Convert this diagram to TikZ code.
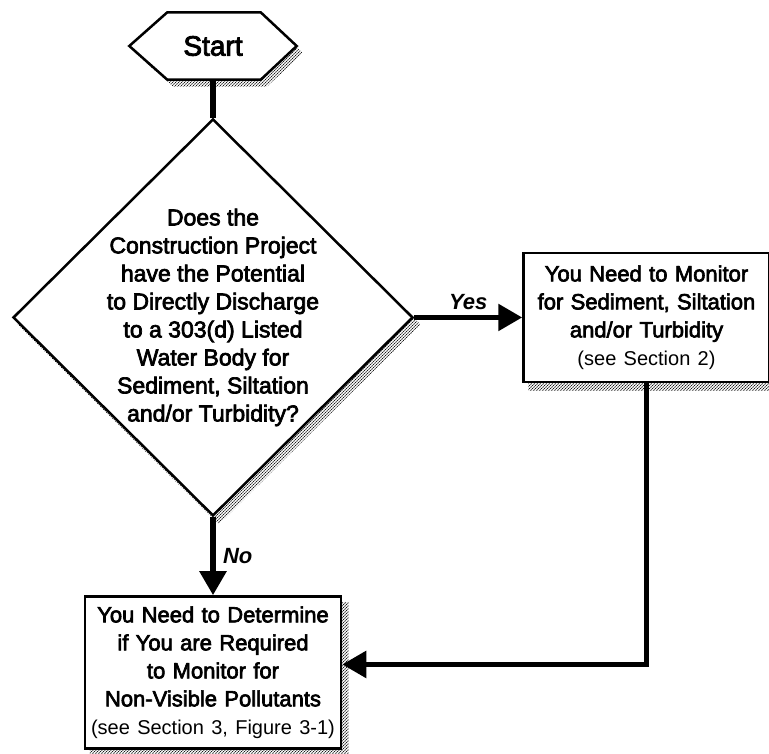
\documentclass[tikz,border=0pt]{standalone}
\usepackage{fontspec}
\setmainfont{Liberation Sans}
\newfontfamily\heavyfont[FakeBold=3]{Liberation Sans}
\usetikzlibrary{arrows.meta,positioning,shapes.geometric,backgrounds,patterns}

\begin{document}
\begin{tikzpicture}[x=1pt,y=1pt,
  castshadow/.style={preaction={pattern=north east lines,pattern color=black!60},
    pattern=crosshatch dots,pattern color=black},
  hexbox/.style={minimum width=167pt,minimum height=67pt,inner sep=0pt,
    font=\heavyfont\fontsize{28}{32}\selectfont},
  ask/.style={diamond,draw,line width=2.5pt,fill=white,minimum width=400pt,
    minimum height=397pt,inner sep=0pt},
  asktext/.style={align=center,font=\heavyfont\fontsize{23}{28}\selectfont},
  box/.style={draw,line width=2.5pt,fill=white,align=center,inner sep=2pt,
    font=\heavyfont\fontsize{22}{28}\selectfont},
  link/.style={line width=5.5pt},
  arr/.style={-{Triangle[length=24pt,width=26pt]},line width=5.5pt},
  lbl/.style={font=\bfseries\itshape\fontsize{22}{24}\selectfont},
  node distance=38pt]
\useasboundingbox (0,0) rectangle (769,-753);

\node[hexbox](start) at (213,-46){Start};
\node[ask,below=38pt of start](q){};
\node[asktext](qtext) at (q){Does the\\Construction Project\\have the Potential\\
  to Directly Discharge\\to a 303(d) Listed\\Water Body for\\Sediment, Siltation\\and/or Turbidity?};

\node[box,text width=242pt,minimum height=129pt,right=108pt of q](mon){You Need to Monitor\\
  for Sediment, Siltation\\and/or Turbidity\\{\fontsize{20}{28}\normalfont\selectfont(see Section 2)}};
\node[box,text width=252pt,minimum height=152pt,below=78pt of q](det){You Need to Determine\\
  if You are Required\\to Monitor for\\Non-Visible Pollutants\\
  {\fontsize{20}{28}\normalfont\selectfont(see Section 3, Figure 3-1)}};

% stippled drop shadows and the start sign go underneath
\begin{scope}[on background layer]
\path[castshadow] ([shift={(6pt,-7pt)}]start.west) -- ([shift={(44pt,-7pt)}]start.north west)
  -- ([shift={(-30pt,-7pt)}]start.north east) -- ([shift={(6pt,-7pt)}]start.east)
  -- ([shift={(-30pt,-7pt)}]start.south east) -- ([shift={(44pt,-7pt)}]start.south west) -- cycle;
\path[castshadow] ([shift={(6pt,-7pt)}]q.north) -- ([shift={(6pt,-7pt)}]q.east)
  -- ([shift={(6pt,-7pt)}]q.south) -- ([shift={(6pt,-7pt)}]q.west) -- cycle;
\path[castshadow] ([shift={(6pt,-7pt)}]mon.north west) rectangle ([shift={(6pt,-7pt)}]mon.south east);
\path[castshadow] ([shift={(6pt,-7pt)}]det.north west) rectangle ([shift={(6pt,-7pt)}]det.south east);
\draw[line width=2.5pt,fill=white,line join=miter]
  (start.west) -- ([xshift=38pt]start.north west) -- ([xshift=-36pt]start.north east)
  -- (start.east) -- ([xshift=-36pt]start.south east) -- ([xshift=38pt]start.south west) -- cycle;
\end{scope}

\draw[link](start.south)--(q.north);
\draw[arr](q.east)--(mon.west) node[lbl,midway,above=2pt]{Yes};
\draw[arr](q.south)--(det.north) node[lbl,midway,right=4pt]{No};
\draw[arr](mon.south)|-([yshift=8pt]det.east);
\end{tikzpicture}
\end{document}
